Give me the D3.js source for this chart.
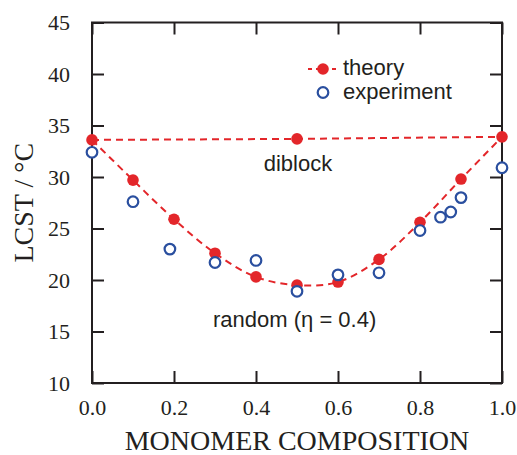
<!DOCTYPE html>
<html>
<head>
<meta charset="utf-8">
<title>LCST vs composition</title>
<script src="https://cdn.jsdelivr.net/npm/d3@7"></script>
<style>
    body { margin: 0; background: #fff; }
    .tick text { font-family: "Liberation Serif", "Times New Roman", serif; font-size: 22px; fill: #231f20; }
    .tick line { stroke: #231f20; stroke-width: 2px; }
    .lbl { font-family: "Liberation Sans", Arial, sans-serif; font-size: 22px; fill: #231f20; }
    .title { font-family: "Liberation Serif", "Times New Roman", serif; font-size: 28px; fill: #231f20; }
</style>
</head>
<body>
<svg id="chart" width="517" height="455"></svg>
<script>
// theory, random copolymer (eta = 0.4)
var composition = [0, 0.1, 0.2, 0.3, 0.4, 0.5, 0.6, 0.7, 0.8, 0.9, 1.0];
var theoryRandom = [33.6, 29.7, 25.9, 22.6, 20.3, 19.5, 19.8, 22.0, 25.6, 29.8, 33.9];
// theory, diblock
var diblockX = [0, 0.5, 1.0];
var diblockLCST = [33.6, 33.7, 33.9];
// experiment
var expX = [0, 0.1, 0.19, 0.3, 0.4, 0.5, 0.6, 0.7, 0.8, 0.85, 0.875, 0.9, 1.0];
var expLCST = [32.4, 27.6, 23.0, 21.7, 21.9, 18.9, 20.5, 20.7, 24.8, 26.1, 26.6, 28.0, 30.9];

var xTicks = [0, 0.2, 0.4, 0.6, 0.8, 1.0];
var yTicks = [10, 15, 20, 25, 30, 35, 40, 45];

var svg = d3.select('#chart');
var pL = 92, pR = 502, pT = 22.5, pB = 383;
var x = d3.scaleLinear().domain([0, 1]).range([pL, pR]);
var y = d3.scaleLinear().domain([10, 45]).range([pB, pT]);

var red = '#e3262a', blue = '#2a4f9f', ink = '#231f20';

// axes, ticks pointing inward on all four sides
var gx = svg.append('g').attr('transform', 'translate(0,' + pB + ')')
    .call(d3.axisBottom(x).tickValues(xTicks).tickFormat(d3.format('.1f')).tickSizeInner(-12).tickSizeOuter(0).tickPadding(16));
svg.append('g').attr('transform', 'translate(0,' + pT + ')')
    .call(d3.axisTop(x).tickValues(xTicks).tickSizeInner(-12).tickSizeOuter(0).tickFormat(''));
svg.append('g').attr('transform', 'translate(' + pL + ',0)')
    .call(d3.axisLeft(y).tickValues(yTicks).tickSizeInner(-12).tickSizeOuter(0).tickPadding(22));
svg.append('g').attr('transform', 'translate(' + pR + ',0)')
    .call(d3.axisRight(y).tickValues(yTicks).tickSizeInner(-12).tickSizeOuter(0).tickFormat(''));
svg.selectAll('.domain').remove();
svg.append('rect')
    .attr('x', pL).attr('y', pT)
    .attr('width', pR - pL).attr('height', pB - pT)
    .attr('fill', 'none').attr('stroke', ink).attr('stroke-width', 2);

// titles
svg.append('text').attr('class', 'title')
    .attr('x', (pL + pR) / 2).attr('y', 450)
    .attr('text-anchor', 'middle').text('MONOMER COMPOSITION');
svg.append('text').attr('class', 'title')
    .attr('transform', 'translate(33,' + (pT + pB) / 2 + ') rotate(-90)')
    .attr('text-anchor', 'middle').text('LCST / \u00b0C');

// theory lines
var line = d3.line().x(function(d) { return x(d[0]); }).y(function(d) { return y(d[1]); });
svg.append('path')
    .attr('d', line(d3.zip(diblockX, diblockLCST)))
    .attr('fill', 'none').attr('stroke', red).attr('stroke-width', 2).attr('stroke-dasharray', '7,5');
svg.append('path')
    .attr('d', line.curve(d3.curveCatmullRom)(d3.zip(composition, theoryRandom)))
    .attr('fill', 'none').attr('stroke', red).attr('stroke-width', 2).attr('stroke-dasharray', '7,5');

// theory points
svg.append('g').selectAll('circle')
    .data(d3.zip(composition, theoryRandom).concat([[diblockX[1], diblockLCST[1]]]))
    .enter().append('circle')
    .attr('cx', function(d) { return x(d[0]); })
    .attr('cy', function(d) { return y(d[1]); })
    .attr('r', 5.8)
    .attr('fill', red);

// experiment points
svg.append('g').selectAll('circle')
    .data(d3.zip(expX, expLCST))
    .enter().append('circle')
    .attr('cx', function(d) { return x(d[0]); })
    .attr('cy', function(d) { return y(d[1]); })
    .attr('r', 5.3)
    .attr('fill', '#fff')
    .attr('stroke', blue)
    .attr('stroke-width', 2.2);

// annotations
svg.append('text').attr('class', 'lbl').attr('x', 298).attr('y', 171).attr('text-anchor', 'middle').text('diblock');
svg.append('text').attr('class', 'lbl').attr('x', 213).attr('y', 327).text('random (\u03b7 = 0.4)');

// legend
var lg = svg.append('g');
lg.append('line').attr('x1', 308).attr('x2', 338).attr('y1', 69).attr('y2', 69)
    .attr('stroke', red).attr('stroke-width', 2).attr('stroke-dasharray', '4,4');
lg.append('circle').attr('cx', 323).attr('cy', 69).attr('r', 5.8).attr('fill', red);
lg.append('circle').attr('cx', 323).attr('cy', 92.5).attr('r', 5.3)
    .attr('fill', '#fff').attr('stroke', blue).attr('stroke-width', 2.2);
lg.append('text').attr('class', 'lbl').attr('x', 343).attr('y', 75).text('theory');
lg.append('text').attr('class', 'lbl').attr('x', 343).attr('y', 98.5).text('experiment');
</script>
</body>
</html>
